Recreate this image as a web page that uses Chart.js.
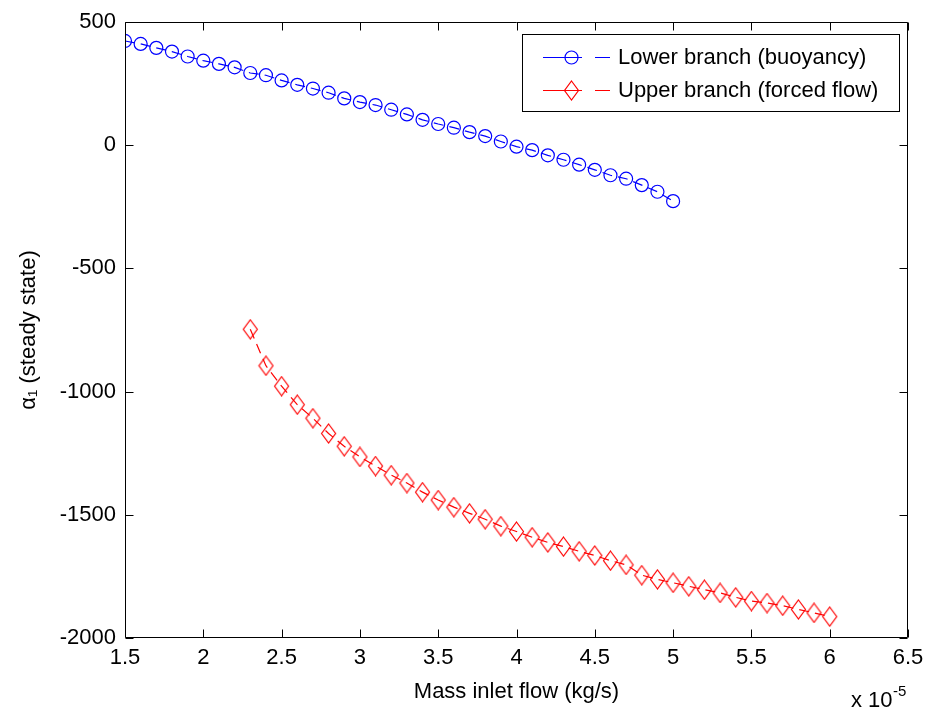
<!DOCTYPE html>
<html><head><meta charset="utf-8">
<script src="https://cdn.jsdelivr.net/npm/chart.js@4/dist/chart.umd.min.js"></script>
<style>html,body{margin:0;padding:0;background:#fff;}#wrap{width:926px;height:715px;}</style>
</head><body><div id="wrap"><canvas id="c" width="926" height="715"></canvas></div>
<script>
// x values are in units of 1e-5 kg/s
const lowerX = [1.5,1.6,1.7,1.8,1.9,2.0,2.1,2.2,2.3,2.4,2.5,2.6,2.7,2.8,2.9,3.0,3.1,3.2,3.3,3.4,3.5,3.6,3.7,3.8,3.9,4.0,4.1,4.2,4.3,4.4,4.5,4.6,4.7,4.8,4.9,5.0];
const lowerY = [423,411,395,380,360,343,330,316,293,284,263,245,230,213,190,175,163,144,125,103,86,71,53,37,15,-6,-20,-41,-59,-79,-100,-122,-136,-162,-189,-227];
const upperX = [2.3,2.4,2.5,2.6,2.7,2.8,2.9,3.0,3.1,3.2,3.3,3.4,3.5,3.6,3.7,3.8,3.9,4.0,4.1,4.2,4.3,4.4,4.5,4.6,4.7,4.8,4.9,5.0,5.1,5.2,5.3,5.4,5.5,5.6,5.7,5.8,5.9,6.0];
const upperY = [-747,-895,-978,-1053,-1108,-1170,-1222,-1265,-1302,-1339,-1371,-1408,-1440,-1469,-1494,-1518,-1546,-1568,-1591,-1612,-1629,-1648,-1665,-1686,-1703,-1745,-1762,-1776,-1790,-1804,-1817,-1835,-1850,-1858,-1869,-1884,-1898,-1913];
const xTicks = [1.5,2,2.5,3,3.5,4,4.5,5,5.5,6,6.5];
const yTicks = [-2000,-1500,-1000,-500,0,500];
const seriesNames = ['Lower branch (buoyancy)','Upper branch (forced flow)'];
const xTitle = 'Mass inlet flow (kg/s)';
const yTitle = 'α\u2081 (steady state)';

const FONT = "'Liberation Sans', Arial, Helvetica, sans-serif";
const BLUE = '#0000ff', RED = '#ff0000';

function makeDiamond(){
  const c = document.createElement('canvas'); c.width = 17; c.height = 21;
  const g = c.getContext('2d'); g.strokeStyle = RED; g.lineWidth = 1.2;
  g.beginPath(); g.moveTo(8.5,1); g.lineTo(15.5,10.5); g.lineTo(8.5,20); g.lineTo(1.5,10.5); g.closePath(); g.stroke();
  return c;
}
const diamond = makeDiamond();

const framePlugin = {
  id: 'frame',
  afterDraw(chart){
    const {ctx, chartArea: a, scales: {x, y}} = chart;
    ctx.save();
    ctx.strokeStyle = '#000'; ctx.lineWidth = 1;
    const L = Math.round(a.left)+0.5, R = Math.round(a.right)-0.5, T = Math.round(a.top)+0.5, B = Math.round(a.bottom)-0.5;
    ctx.beginPath(); ctx.rect(L, T, R-L, B-T); ctx.stroke();
    ctx.beginPath();
    xTicks.forEach(v => { const p = Math.round(x.getPixelForValue(v))+0.5; ctx.moveTo(p,B); ctx.lineTo(p,B-8); ctx.moveTo(p,T); ctx.lineTo(p,T+8); });
    yTicks.forEach(v => { const p = Math.round(y.getPixelForValue(v))+0.5; ctx.moveTo(L,p); ctx.lineTo(L+8,p); ctx.moveTo(R,p); ctx.lineTo(R-8,p); });
    ctx.stroke();
    // legend
    const bx = 522.5, by = 34.5, bw = 377, bh = 77;
    ctx.fillStyle = '#fff'; ctx.fillRect(bx, by, bw, bh); ctx.strokeRect(bx, by, bw, bh);
    const rows = [{y: 57, c: BLUE, t: seriesNames[0], m: 'o'}, {y: 90, c: RED, t: seriesNames[1], m: 'd'}];
    rows.forEach(r => {
      ctx.strokeStyle = r.c; ctx.lineWidth = 1.2;
      ctx.beginPath(); ctx.moveTo(543, r.y+0.5); ctx.lineTo(582, r.y+0.5); ctx.moveTo(595, r.y+0.5); ctx.lineTo(610, r.y+0.5); ctx.stroke();
      if (r.m === 'o') { ctx.beginPath(); ctx.arc(571.5, r.y+0.5, 6.5, 0, Math.PI*2); ctx.stroke(); }
      else { ctx.drawImage(diamond, 571.5-8.5, r.y+0.5-10.5); }
      ctx.fillStyle = '#000'; ctx.font = '22px ' + FONT; ctx.textBaseline = 'middle'; ctx.textAlign = 'left';
      ctx.fillText(r.t, 618, r.y+1);
    });
    // exponent
    ctx.fillStyle = '#000'; ctx.textBaseline = 'alphabetic'; ctx.textAlign = 'left';
    ctx.font = '22px ' + FONT; ctx.fillText('x 10', 851, 707);
    ctx.font = '15px ' + FONT; ctx.fillText('-5', 893, 696);
    ctx.restore();
  }
};

function zeroPad(s){ s.paddingLeft = 0; s.paddingRight = 0; s.paddingTop = 0; s.paddingBottom = 0; }

new Chart(document.getElementById('c'), {
  type: 'scatter',
  data: {
    datasets: [
      { label: seriesNames[0], data: lowerX.map((v,i)=>({x:v, y:lowerY[i]})), showLine: true,
        borderColor: BLUE, borderWidth: 1.2, borderDash: [10,6], backgroundColor: 'transparent',
        pointStyle: 'circle', pointRadius: 6.5, pointBorderWidth: 1.2, pointBorderColor: BLUE, pointBackgroundColor: 'transparent' },
      { label: seriesNames[1], data: upperX.map((v,i)=>({x:v, y:upperY[i]})), showLine: true,
        borderColor: RED, borderWidth: 1.2, borderDash: [10,6], backgroundColor: 'transparent',
        pointStyle: diamond, pointRadius: 8, pointBorderColor: RED, pointBackgroundColor: 'transparent' }
    ]
  },
  options: {
    responsive: false, animation: false, devicePixelRatio: 1,
    layout: { padding: { left: 0, top: 22, right: 18, bottom: 0 } },
    plugins: { legend: { display: false }, tooltip: { enabled: false } },
    scales: {
      x: { type: 'linear', min: 1.5, max: 6.5,
        afterBuildTicks: s => { s.ticks = xTicks.map(v => ({value: v})); },
        afterFit: s => { s.height = 77; zeroPad(s); },
        ticks: { color: '#000', font: { family: FONT, size: 22 }, padding: 7, maxRotation: 0, autoSkip: false,
          callback: v => String(v) },
        grid: { display: true, drawOnChartArea: false, drawTicks: false },
        border: { display: false },
        title: { display: true, text: xTitle, color: '#000', font: { family: FONT, size: 22 }, padding: { top: 0, bottom: 10 } } },
      y: { type: 'linear', min: -2000, max: 500,
        afterBuildTicks: s => { s.ticks = yTicks.map(v => ({value: v})); },
        afterFit: s => { s.width = 125; zeroPad(s); },
        ticks: { color: '#000', font: { family: FONT, size: 22 }, padding: 9, autoSkip: false,
          callback: v => String(v) },
        grid: { display: true, drawOnChartArea: false, drawTicks: false },
        border: { display: false },
        title: { display: true, text: yTitle, color: '#000', font: { family: FONT, size: 22 }, padding: { top: 16, bottom: 0 } } }
    }
  },
  plugins: [framePlugin]
});
</script></body></html>
